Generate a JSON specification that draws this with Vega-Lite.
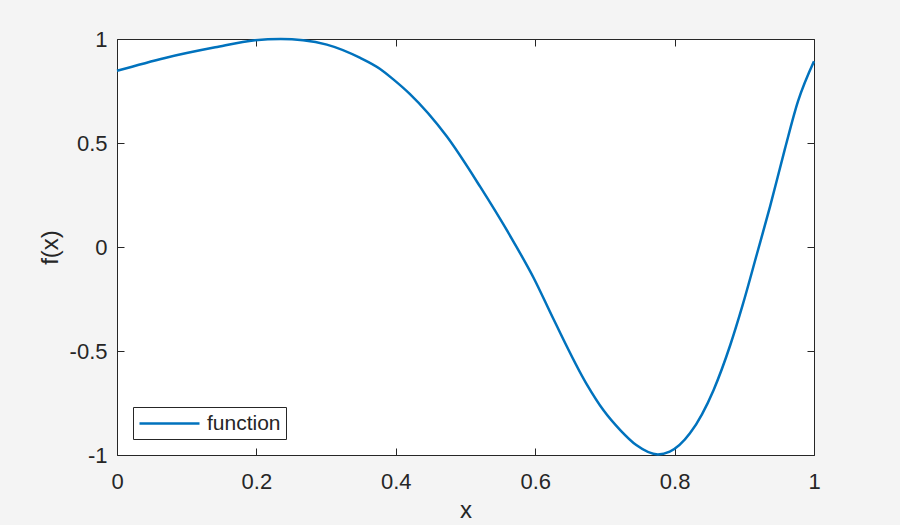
{
  "$schema": "https://vega.github.io/schema/vega-lite/v6.json",
  "width": 697,
  "height": 416,
  "autosize": {"type": "none"},
  "padding": {"left": 117, "top": 39, "right": 86, "bottom": 70},
  "background": "#f4f4f4",
  "data": {
    "values": [
      {"x": 0, "y": 0.847},
      {"x": 0.069, "y": 0.909},
      {"x": 0.141, "y": 0.96},
      {"x": 0.198, "y": 0.994},
      {"x": 0.235, "y": 1.0},
      {"x": 0.267, "y": 0.994},
      {"x": 0.301, "y": 0.973},
      {"x": 0.349, "y": 0.909},
      {"x": 0.377, "y": 0.857},
      {"x": 0.396, "y": 0.807},
      {"x": 0.42, "y": 0.736},
      {"x": 0.473, "y": 0.532},
      {"x": 0.521, "y": 0.29},
      {"x": 0.569, "y": 0.025},
      {"x": 0.598, "y": -0.15},
      {"x": 0.626, "y": -0.345},
      {"x": 0.674, "y": -0.66},
      {"x": 0.698, "y": -0.785},
      {"x": 0.722, "y": -0.88},
      {"x": 0.745, "y": -0.952},
      {"x": 0.776, "y": -0.997},
      {"x": 0.793, "y": -0.984},
      {"x": 0.822, "y": -0.896},
      {"x": 0.856, "y": -0.687},
      {"x": 0.88, "y": -0.47},
      {"x": 0.898, "y": -0.275},
      {"x": 0.918, "y": -0.035},
      {"x": 0.937, "y": 0.195},
      {"x": 0.958, "y": 0.468},
      {"x": 0.977, "y": 0.7},
      {"x": 1.0, "y": 0.893}
    ]
  },
  "layer": [
    {
      "mark": {"type": "line", "strokeWidth": 2.5, "interpolate": "monotone"},
      "encoding": {
        "x": {
          "field": "x",
          "type": "quantitative",
          "scale": {"domain": [0, 1], "nice": false},
          "axis": {
            "orient": "bottom",
            "title": "x",
            "values": [0, 0.2, 0.4, 0.6, 0.8, 1],
            "labelExpr": "'' + datum.value",
            "labelFlush": false,
            "labelPadding": 23,
            "titlePadding": 6
          }
        },
        "y": {
          "field": "y",
          "type": "quantitative",
          "scale": {"domain": [-1, 1], "nice": false},
          "axis": {
            "orient": "left",
            "title": "f(x)",
            "values": [-1, -0.5, 0, 0.5, 1],
            "labelExpr": "'' + datum.value",
            "labelFlush": false,
            "labelPadding": 17,
            "titlePadding": 7
          }
        },
        "color": {
          "datum": "function",
          "type": "nominal",
          "scale": {"domain": ["function"], "range": ["#0072BD"]},
          "legend": {
            "title": null,
            "orient": "bottom-left",
            "offset": 16,
            "symbolType": "M-1,0H5",
            "symbolSize": 400,
            "symbolStrokeWidth": 2.5,
            "labelFontSize": 21,
            "labelColor": "#262626",
            "labelOffset": 46,
            "strokeColor": "#262626",
            "fillColor": "white",
            "padding": 5
          }
        }
      }
    },
    {
      "mark": {"type": "point", "opacity": 0},
      "encoding": {
        "x": {
          "field": "x",
          "type": "quantitative",
          "axis": {"orient": "top", "title": null, "labels": false, "values": [0, 0.2, 0.4, 0.6, 0.8, 1]}
        },
        "y": {
          "field": "y",
          "type": "quantitative",
          "axis": {"orient": "right", "title": null, "labels": false, "values": [-1, -0.5, 0, 0.5, 1]}
        }
      }
    }
  ],
  "resolve": {"axis": {"x": "independent", "y": "independent"}},
  "config": {
    "font": "Liberation Sans",
    "view": {"fill": "white", "stroke": "#262626", "strokeWidth": 1},
    "axis": {
      "domain": false,
      "grid": false,
      "tickSize": -7,
      "tickColor": "#262626",
      "labelColor": "#262626",
      "labelFontSize": 22,
      "titleColor": "#262626",
      "titleFontSize": 24,
      "titleFontWeight": "normal"
    }
  }
}
